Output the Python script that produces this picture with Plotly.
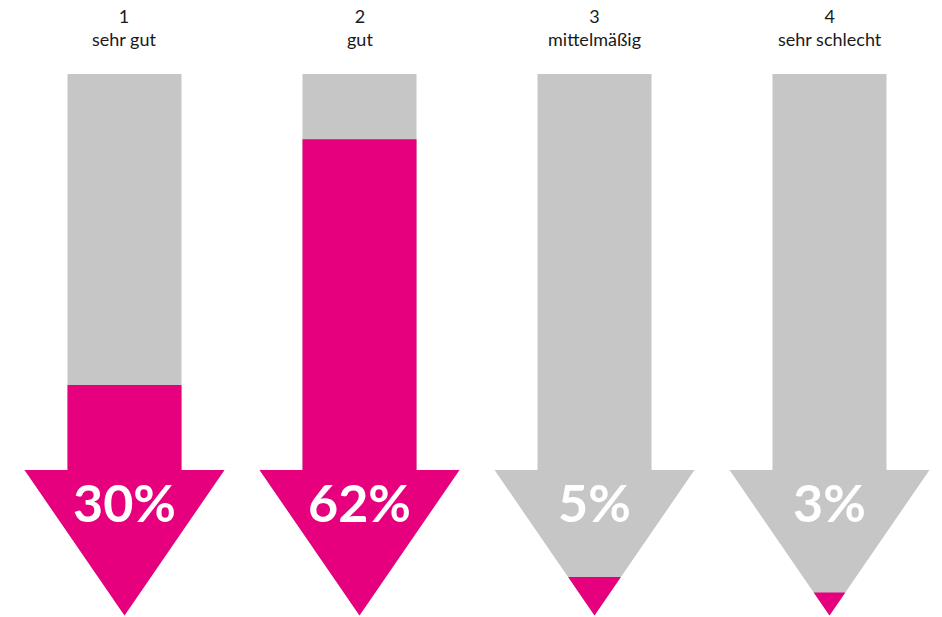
import plotly.graph_objects as go

# Data
ranks = ["1", "2", "3", "4"]
categories = ["sehr gut", "gut", "mittelmäßig", "sehr schlecht"]
values = [30, 62, 5, 3]

# Style / geometry (in axis units)
MAGENTA = "#E6007E"
GRAY = "#C6C6C6"
SCALE_MAX = 70.5        # value that fills the whole arrow
HEAD_H = 18.95          # height of the arrow head (value units)
HEAD_W = 0.4255         # half-width of head (x units)
SHAFT_W = 0.2426        # half-width of shaft (x units)


def arrow_poly(c, top):
    """Polygon of arrow part from tip (0) up to 'top' (value units)."""
    if top <= HEAD_H:
        w = HEAD_W * top / HEAD_H
        xs = [c, c + w, c - w, c]
        ys = [0, top, top, 0]
    else:
        xs = [c, c + HEAD_W, c + SHAFT_W, c + SHAFT_W, c - SHAFT_W, c - SHAFT_W, c - HEAD_W, c]
        ys = [0, HEAD_H, HEAD_H, top, top, HEAD_H, HEAD_H, 0]
    return xs, ys


fig = go.Figure()
for i, (r, cat, v) in enumerate(zip(ranks, categories, values)):
    xs, ys = arrow_poly(i, SCALE_MAX)
    fig.add_trace(go.Scatter(x=xs, y=ys, fill="toself", fillcolor=GRAY, mode="lines",
                             line=dict(width=0, color=GRAY), hoverinfo="skip", showlegend=False))
    xs, ys = arrow_poly(i, v)
    fig.add_trace(go.Scatter(x=xs, y=ys, fill="toself", fillcolor=MAGENTA, mode="lines",
                             line=dict(width=0, color=MAGENTA), name=cat,
                             hovertemplate=f"{cat}: {v}%<extra></extra>", showlegend=False))
    fig.add_annotation(x=i, y=14.8, text=f"{v}%", showarrow=False,
                       font=dict(family="Lato", size=52, color="white", weight="bold"),
                       xanchor="center", yanchor="middle")
    fig.add_annotation(x=i, y=1, yref="paper", yshift=-3, text=f"{r}<br>{cat}", showarrow=False,
                       font=dict(family="Lato", size=18, color="#1a1a1a"),
                       xanchor="center", yanchor="top", align="center")

px_per_x = 235.0
x0 = -124.5 / px_per_x
x1 = x0 + 942.0 / px_per_x
px_per_y = 541.5 / SCALE_MAX
y0 = -1.5 / px_per_y
y1 = y0 + 617.0 / px_per_y

fig.update_layout(
    width=942, height=617,
    margin=dict(l=0, r=0, t=0, b=0),
    paper_bgcolor="white", plot_bgcolor="white",
    xaxis=dict(range=[x0, x1], visible=False, fixedrange=True),
    yaxis=dict(range=[y0, y1], visible=False, fixedrange=True),
)

fig.write_html("out.html", config={"displayModeBar": False},
               post_script="document.body.style.margin='0';document.body.style.overflow='hidden';")
